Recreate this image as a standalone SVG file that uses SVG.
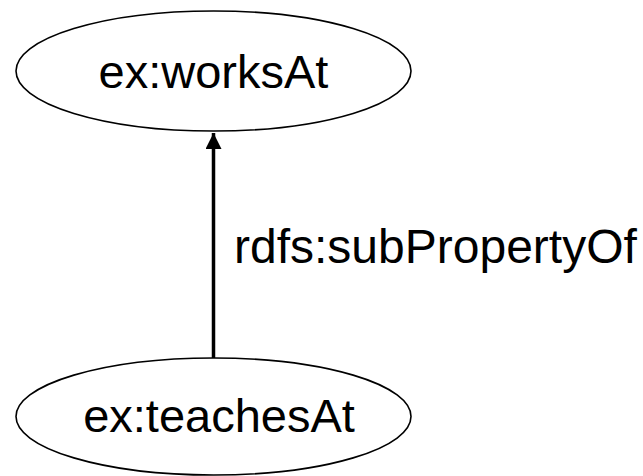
<svg xmlns="http://www.w3.org/2000/svg" width="643" height="476" viewBox="0 0 643 476">
<defs>
<style>
.node ellipse{fill:#fff;stroke:#000;stroke-width:1.6}
.node text,.lbl{font-family:"Liberation Sans",Arial,sans-serif;font-size:47px;fill:#000}
.node text{text-anchor:middle}
.lbl{font-size:48px}
.edge{stroke:#000;stroke-width:3.5;fill:none}
</style>
<marker id="arr" viewBox="0 0 16 16" refX="16" refY="8" markerWidth="16" markerHeight="16" markerUnits="userSpaceOnUse" orient="auto">
<path d="M0,0 L16,8 L0,16 Z" fill="#000"/>
</marker>
</defs>
<g id="connectors">
<line class="edge" x1="213.5" y1="358" x2="213.5" y2="133" marker-end="url(#arr)"/>
<text class="lbl" x="234" y="263">rdfs:subPropertyOf</text>
</g>
<g id="worksAt" class="node">
<ellipse cx="213.5" cy="71" rx="197.5" ry="60"/>
<text x="213.5" y="88">ex:worksAt</text>
</g>
<g id="teachesAt" class="node">
<ellipse cx="213.5" cy="416.5" rx="197.5" ry="58.5"/>
<text x="219" y="432">ex:teachesAt</text>
</g>
</svg>
